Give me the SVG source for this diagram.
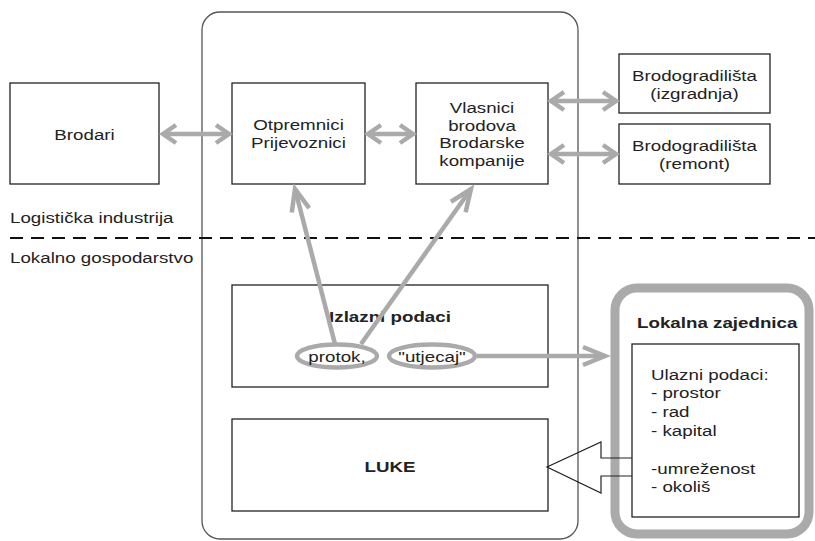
<svg xmlns="http://www.w3.org/2000/svg" width="815" height="541" viewBox="0 0 815 541">
<style>
  text { font-family: "Liberation Sans", Arial, sans-serif; font-size: 15px; fill: #222; }
  .b { font-weight: bold; }
  .c { text-anchor: middle; }
  .box { fill: #fff; stroke: #222; stroke-width: 1.3; }
  .conn { fill: none; stroke: #aaaaaa; stroke-width: 4.5; }
</style>
<defs>
  <marker id="chev" markerUnits="userSpaceOnUse" viewBox="-20 -14 26 28" refX="0" refY="0" markerWidth="26" markerHeight="28" orient="auto-start-reverse">
    <path d="M-13,-9 L0,0 L-13,9" fill="none" stroke="#aaaaaa" stroke-width="4.5"/>
  </marker>
  <marker id="chevL" markerUnits="userSpaceOnUse" viewBox="-30 -14 36 28" refX="0" refY="0" markerWidth="36" markerHeight="28" orient="auto">
    <path d="M-22,-9 L0,0 L-22,9" fill="none" stroke="#aaaaaa" stroke-width="4.5"/>
  </marker>
</defs>

<rect id="port-frame" x="202" y="12" width="376" height="527" rx="18" fill="none" stroke="#555" stroke-width="1.3"/>

<line x1="10" y1="238" x2="815" y2="238" stroke="#111" stroke-width="2" stroke-dasharray="13,8"/>
<text transform="translate(10,223) scale(1.25,1)">Logistička industrija</text>
<text transform="translate(10,263) scale(1.25,1)">Lokalno gospodarstvo</text>

<g id="brodari">
  <rect class="box" x="10" y="83" width="149" height="101"/>
  <text class="c" transform="translate(84.5,140) scale(1.25,1)">Brodari</text>
</g>
<g id="otpremnici">
  <rect class="box" x="232" y="83" width="133" height="101"/>
  <text class="c" transform="translate(298.5,130) scale(1.25,1)">Otpremnici</text>
  <text class="c" transform="translate(298.5,148) scale(1.25,1)">Prijevoznici</text>
</g>
<g id="vlasnici">
  <rect class="box" x="416" y="83" width="132" height="101"/>
  <text class="c" transform="translate(482,113) scale(1.25,1)">Vlasnici</text>
  <text class="c" transform="translate(482,131) scale(1.25,1)">brodova</text>
  <text class="c" transform="translate(482,148) scale(1.25,1)">Brodarske</text>
  <text class="c" transform="translate(482,166) scale(1.25,1)">kompanije</text>
</g>
<g id="izgradnja">
  <rect class="box" x="619" y="54" width="151" height="59"/>
  <text class="c" transform="translate(694.5,81) scale(1.25,1)">Brodogradilišta</text>
  <text class="c" transform="translate(694.5,99) scale(1.25,1)">(izgradnja)</text>
</g>
<g id="remont">
  <rect class="box" x="619" y="124" width="151" height="60"/>
  <text class="c" transform="translate(694.5,151) scale(1.25,1)">Brodogradilišta</text>
  <text class="c" transform="translate(694.5,169) scale(1.25,1)">(remont)</text>
</g>
<g id="izlazni">
  <rect class="box" x="232" y="285" width="316" height="102"/>
  <text class="c b" transform="translate(390,322) scale(1.25,1)">Izlazni podaci</text>
</g>
<g id="luke">
  <rect class="box" x="232" y="419" width="316" height="92"/>
  <text class="c b" transform="translate(390,472) scale(1.25,1)">LUKE</text>
</g>
<g id="lokalna">
  <rect x="615" y="288" width="194" height="246" rx="22" fill="none" stroke="#aaaaaa" stroke-width="9"/>
  <text class="b" transform="translate(637,328) scale(1.25,1)">Lokalna zajednica</text>
  <rect class="box" x="632" y="344" width="167" height="173"/>
  <text transform="translate(651,380) scale(1.25,1)">Ulazni podaci:</text>
  <text transform="translate(651,398) scale(1.25,1)">- prostor</text>
  <text transform="translate(651,417) scale(1.25,1)">- rad</text>
  <text transform="translate(651,436) scale(1.25,1)">- kapital</text>
  <text transform="translate(651,474) scale(1.25,1)">-umreženost</text>
  <text transform="translate(651,492) scale(1.25,1)">- okoliš</text>
</g>

<g id="connectors">
  <line class="conn" x1="163" y1="134" x2="229" y2="134" marker-start="url(#chev)" marker-end="url(#chev)"/>
  <line class="conn" x1="368" y1="134" x2="413" y2="134" marker-start="url(#chev)" marker-end="url(#chev)"/>
  <line class="conn" x1="551" y1="101" x2="616" y2="101" marker-start="url(#chev)" marker-end="url(#chev)"/>
  <line class="conn" x1="551" y1="154" x2="616" y2="154" marker-start="url(#chev)" marker-end="url(#chev)"/>
  <line class="conn" x1="335" y1="344" x2="295" y2="189" marker-end="url(#chevL)"/>
  <line class="conn" x1="361" y1="344" x2="471" y2="189" marker-end="url(#chevL)"/>
  <line class="conn" x1="477" y1="356" x2="605" y2="356" marker-end="url(#chevL)"/>
  <path d="M632,458 L601,458 L601,442 L547,467 L601,493 L601,476 L632,476" fill="none" stroke="#222" stroke-width="1.2"/>
</g>

<g id="protok">
  <ellipse cx="337" cy="356" rx="40" ry="11.5" fill="#fff" stroke="#aaaaaa" stroke-width="4.5"/>
  <text class="c" transform="translate(337,362) scale(1.25,1)">protok,</text>
</g>
<g id="utjecaj">
  <ellipse cx="432" cy="356" rx="43" ry="11.5" fill="#fff" stroke="#aaaaaa" stroke-width="4.5"/>
  <text class="c" transform="translate(432,362) scale(1.25,1)">"utjecaj"</text>
</g>
</svg>
